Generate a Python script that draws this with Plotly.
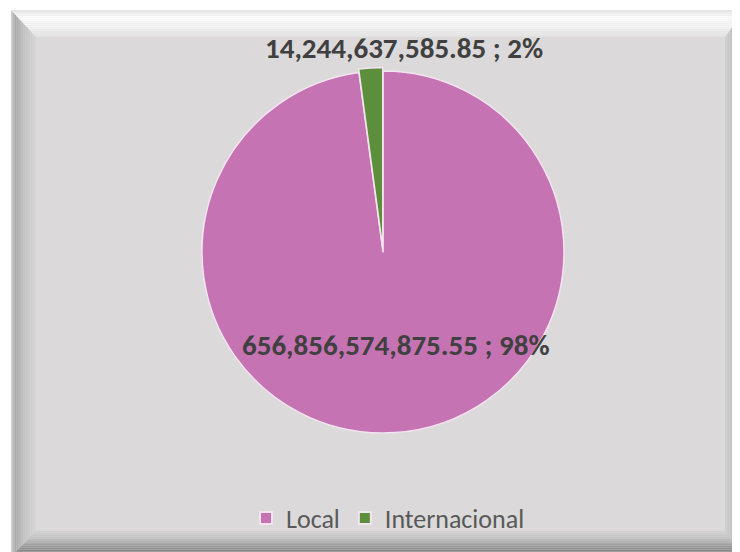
import plotly.graph_objects as go

# ---- data ----
categories = ["Local", "Internacional"]
values = [656856574875.55, 14244637585.85]
colors = ["#C673B3", "#5B8F3B"]

W, H = 740, 552
OFF = 8  # page body margin

def px(x):
    return (x - OFF) / W

def py(y):
    return 1 - (y - OFF) / H

def lerp(c1, c2, t):
    a = [int(c1[i:i + 2], 16) for i in (1, 3, 5)]
    b = [int(c2[i:i + 2], 16) for i in (1, 3, 5)]
    return "#%02x%02x%02x" % tuple(round(a[k] + (b[k] - a[k]) * t) for k in range(3))

shapes = []
L, T, R, B = 11, 10, 745, 557
face = "#DBD9DA"
shapes.append(dict(type="rect", xref="paper", yref="paper", x0=px(L), x1=px(R), y0=py(B), y1=py(T),
                   fillcolor=face, line=dict(width=0), layer="below"))

def poly(pts, color):
    d = "M " + " L ".join(f"{px(x)},{py(y)}" for x, y in pts) + " Z"
    shapes.append(dict(type="path", xref="paper", yref="paper", path=d, fillcolor=color,
                       line=dict(width=0), layer="below"))

widths = dict(top=27, left=25, right=20, bottom=26)
grads = dict(
    top=[("#E2E2E2", 0.0), ("#FCFCFC", 0.25), ("#F6F6F6", 0.6), ("#E2E1E1", 1.0)],
    left=[("#D8D8D8", 0.0), ("#A8A8A8", 0.15), ("#C4C4C4", 0.55), ("#D6D5D5", 1.0)],
    right=[("#9A9A9A", 0.0), ("#B6B6B6", 0.4), ("#D0CFCF", 1.0)],
    bottom=[("#707070", 0.0), ("#8E8E8E", 0.3), ("#BEBEBE", 0.7), ("#D4D3D3", 1.0)],
)

def gcol(stops, t):
    for i in range(len(stops) - 1):
        c1, t1 = stops[i]
        c2, t2 = stops[i + 1]
        if t1 <= t <= t2:
            return lerp(c1, c2, (t - t1) / (t2 - t1) if t2 > t1 else 0)
    return stops[-1][0]

N = 14
for side in ["left", "right", "top", "bottom"]:
    for i in range(N):
        f0, f1 = i / N, (i + 1) / N
        tl0 = (L + widths["left"] * f0, T + widths["top"] * f0)
        tl1 = (L + widths["left"] * f1, T + widths["top"] * f1)
        tr0 = (R - widths["right"] * f0, T + widths["top"] * f0)
        tr1 = (R - widths["right"] * f1, T + widths["top"] * f1)
        bl0 = (L + widths["left"] * f0, B - widths["bottom"] * f0)
        bl1 = (L + widths["left"] * f1, B - widths["bottom"] * f1)
        br0 = (R - widths["right"] * f0, B - widths["bottom"] * f0)
        br1 = (R - widths["right"] * f1, B - widths["bottom"] * f1)
        c = gcol(grads[side], (f0 + f1) / 2)
        if side == "top":
            poly([tl0, tr0, tr1, tl1], c)
        elif side == "bottom":
            poly([bl0, br0, br1, bl1], c)
        elif side == "left":
            poly([tl0, bl0, bl1, tl1], c)
        else:
            poly([tr0, br0, br1, tr1], c)

# ---- pie ----
pull = [0, 0.02]
cx, cy, r = 383, 252, 181
rd = r * (1 + max(pull))
fig = go.Figure(go.Pie(
    labels=categories, values=values, sort=False, direction="clockwise", rotation=0,
    marker=dict(colors=colors, line=dict(color="#F3E4F0", width=1.5)),
    pull=pull, textinfo="none", hoverinfo="label+value+percent",
    domain=dict(x=[px(cx - rd), px(cx + rd)], y=[py(cy + rd), py(cy - rd)]),
))

total = sum(values)
labels_txt = [f"{v:,.2f} ; {round(100 * v / total)}%" for v in values]
label_pos = [(396, 345), (404, 48)]
font_fam = "Carlito, 'Liberation Sans Narrow', 'Open Sans', sans-serif"
annotations = []
for t, (x, y) in zip(labels_txt, label_pos):
    annotations.append(dict(x=px(x), y=py(y), xref="paper", yref="paper", text=f"<b>{t}</b>",
                            xanchor="center", yanchor="middle",
                            showarrow=False, font=dict(size=29, color="#404040", family=font_fam)))

fig.update_layout(
    width=W, height=H, margin=dict(l=0, r=0, t=0, b=0),
    paper_bgcolor="white", plot_bgcolor="white",
    shapes=shapes, annotations=annotations,
    showlegend=True,
    legend=dict(orientation="h", x=px(388), xanchor="center", y=py(518), yanchor="middle",
                font=dict(size=26, color="#595959", family=font_fam),
                bgcolor="rgba(0,0,0,0)", itemsizing="constant"),
)

fig.write_html("out.html")
